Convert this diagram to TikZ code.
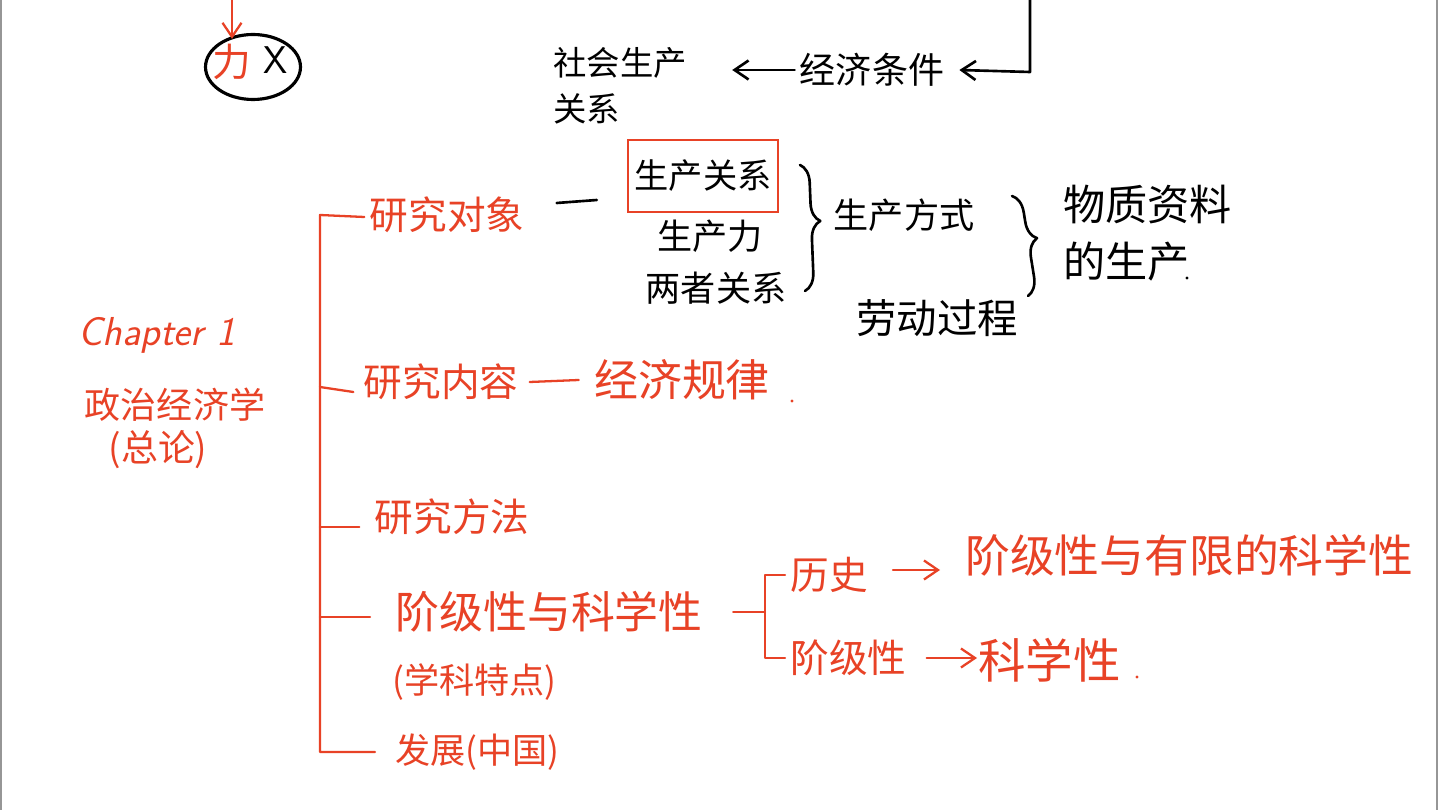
\documentclass[tikz,border=0pt]{standalone}
\usepackage{fontspec}
\newfontfamily\cjk{Noto Sans CJK SC}
\usetikzlibrary{decorations.pathreplacing,arrows.meta,calc,shapes.geometric}
\definecolor{pen}{RGB}{232,66,38}
\definecolor{edge}{RGB}{150,150,150}
\begin{document}
\begin{tikzpicture}[x=0.02cm,y=-0.02cm,
  rtxt/.style={text=pen,inner sep=0pt,font=\cjk\fontsize{22}{26}\selectfont},
  btxt/.style={text=black,inner sep=0pt,font=\cjk\fontsize{20}{24}\selectfont},
  rline/.style={draw=pen,line width=1.3pt,line cap=round,line join=round},
  bline/.style={draw=black,line width=1.5pt,line cap=round,line join=round},
  barb/.style={-{Straight Barb[length=0.28cm,width=0.38cm]}},
  bracestyle/.style={bline,decorate,decoration={brace,amplitude=0.36cm,aspect=0.45}}]
\useasboundingbox (0,0) rectangle (1440,810);
\fill[white] (0,0) rectangle (1440,810);
\draw[edge,line width=1pt] (1,0) -- (1,810);
\draw[edge,line width=1pt] (1437,0) -- (1437,810);

% top-left circled mark
\node[draw=black,line width=1.8pt,ellipse,minimum width=1.9cm,minimum height=1.3cm,inner sep=0pt] (circ) at (253,67) {};
\node[rtxt] (li) at (232,62) {力};
\node[btxt,font=\sffamily\fontsize{22}{26}\selectfont] (xx) at (276,60) {X};
\coordinate (ltop) at (232,0);
\draw[rline,barb] (ltop) -- ([yshift=0.1cm]li.north);

% top row
\node[btxt,font=\cjk\fontsize{19}{26}\selectfont,align=left,anchor=west] (shgx) at (553,86) {社会生产\\关系};
\node[btxt,font=\cjk\fontsize{20.5}{24}\selectfont] (jjtj) at (872,70) {经济条件};
\draw[bline,barb] ([xshift=-0.1cm]jjtj.west) -- ([xshift=0.9cm]shgx.east |- jjtj.west);
\coordinate (rtop) at (1030,0);
\draw[bline,barb] (rtop) -- (1030,72) -- ([xshift=0.3cm]jjtj.east);

% first branch: research object
\node[rtxt] (yjdx) at (447,215) {研究对象};
\node[btxt,font=\cjk\fontsize{19.5}{24}\selectfont,draw=pen,line width=1.3pt,minimum width=3cm,minimum height=1.44cm] (scgx) at (703,176) {生产关系};
\node[btxt] (scl) at (710,236) {生产力};
\node[btxt] (lzgx) at (716,288) {两者关系};
\draw[bline] ([xshift=0.64cm,yshift=0.24cm]yjdx.east) -- ([xshift=-0.6cm,yshift=-0.48cm]scgx.west);
\draw[bracestyle] (800,165) -- (805,291);
\node[btxt] (scfs) at (904,215) {生产方式};
\node[btxt,font=\cjk\fontsize{23}{27}\selectfont] (ldgc) at (937,318) {劳动过程};
\draw[bracestyle] (1012,196) -- (1028,296);
\node[btxt,font=\cjk\fontsize{24}{28}\selectfont,anchor=west] (wzzl) at (1063,205) {物质资料};
\node[btxt,font=\cjk\fontsize{24}{28}\selectfont,anchor=west] (ds) at (1063,262) {的生产};
\fill (1187,278) circle (1.6);

% chapter title
\node[rtxt,font=\sffamily\itshape\fontsize{23}{27}\selectfont] (chap) at (157,335) {Chapter 1};
\node[rtxt,font=\cjk\fontsize{20.5}{24}\selectfont] (zzjjx) at (175,405) {政治经济学};
\node[rtxt,font=\cjk\fontsize{21}{24}\selectfont] (zl) at (158,450) {(总论)};

% other branches
\node[rtxt] (yjnr) at (441,382) {研究内容};
\node[rtxt,font=\cjk\fontsize{25}{29}\selectfont] (jjgl) at (682,380) {经济规律};
\draw[rline] ([xshift=0.22cm]yjnr.east) -- ([xshift=-0.3cm]jjgl.west);
\fill[pen] (792,401) circle (1.6);
\node[rtxt] (yjff) at (452,517) {研究方法};
\node[rtxt,font=\cjk\fontsize{25}{29}\selectfont,anchor=west] (jjx) at (395,612) {阶级性与科学性};
\node[rtxt,font=\cjk\fontsize{20}{24}\selectfont,anchor=west] (xktd) at (392,682) {(学科特点)};
\node[rtxt,font=\cjk\fontsize{20}{24}\selectfont,anchor=west] (fz) at (395,752) {发展(中国)};

% spine
\coordinate (sp) at (320,0);
\draw[rline] ([xshift=-0.1cm,yshift=-0.04cm]yjdx.west) -- (sp |- yjdx.west) -- (sp |- fz.west) -- ([xshift=-0.4cm]fz.west);
\draw[rline] (sp |- 0,387) -- ([xshift=-0.2cm,yshift=-0.1cm]yjnr.west |- 0,387);
\draw[rline] (sp |- 0,527) -- ([xshift=-0.3cm]yjff.west |- 0,527);
\draw[rline] (sp |- 0,617) -- ([xshift=-0.5cm]jjx.west |- 0,617);

% sub-bracket
\node[rtxt,anchor=west] (ls) at (790,575) {历史};
\node[rtxt,font=\cjk\fontsize{25.5}{29}\selectfont,anchor=west] (jjyx) at (965,555) {阶级性与有限的科学性};
\node[rtxt,anchor=west] (jjx2) at (790,658) {阶级性};
\node[rtxt,font=\cjk\fontsize{27}{30}\selectfont,anchor=west] (kxx) at (978,660) {科学性};
\fill[pen] (1137,677) circle (1.6);
\coordinate (bk) at (765,0);
\draw[rline] ([xshift=0.6cm]jjx.east |- 0,612) -- (bk |- 0,612);
\draw[rline] ([xshift=0.4cm]bk |- ls.west) -- (bk |- ls.west) -- (bk |- jjx2.west) -- ([xshift=0.4cm]bk |- jjx2.west);
\draw[rline,barb] ([xshift=0.5cm,yshift=0.1cm]ls.east) -- ([xshift=-0.5cm,yshift=0.1cm]jjyx.west |- ls.east);
\draw[rline,barb] ([xshift=0.4cm]jjx2.east) -- ([xshift=-0.02cm]kxx.west |- jjx2.east);
\end{tikzpicture}
\end{document}
